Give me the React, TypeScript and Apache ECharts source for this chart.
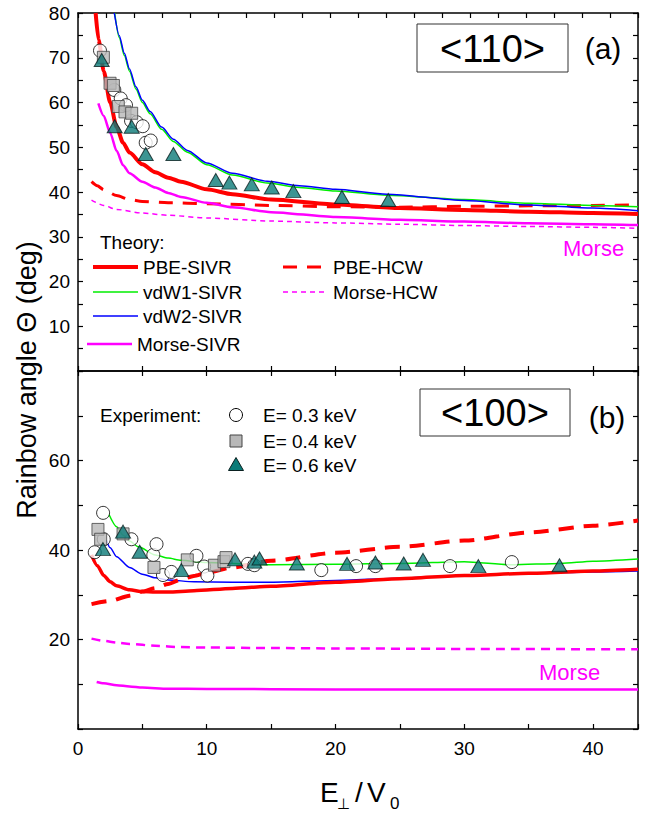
import React, { useEffect, useRef } from 'react';
import * as echarts from 'echarts';

const FONT = "'Liberation Sans', Arial, Helvetica, sans-serif";

// ---------- Panel (a) <110> theory curves ----------
const aPbeSivrX = [1.37, 1.6, 2.0, 2.5, 3.0, 3.5, 4, 5, 6, 7, 8, 10, 12, 15, 20, 25, 30, 35, 40, 43.5];
const aPbeSivrY = [80, 74, 67, 60, 54.5, 51, 48.8, 46.2, 44.4, 43.2, 42.3, 40.6, 39.5, 38.3, 37.2, 36.4, 36, 35.6, 35.3, 35.1];
const aVdw1X = [2.85, 3.2, 3.6, 4, 4.5, 5, 5.6, 6.5, 7.4, 8.5, 10, 12, 14.7, 17.2, 20, 24, 30, 35, 40, 43.5];
const aVdw1Y = [80, 74.5, 70.5, 67, 63, 60, 57.5, 54, 51.3, 48.9, 46.1, 43.8, 42.0, 41.0, 40.2, 39.3, 38.3, 37.5, 37, 36.7];
const aVdw2X = [2.82, 3.2, 3.6, 4, 4.5, 5, 5.6, 6.5, 7.4, 8.5, 10, 12, 14.7, 17.2, 20, 24, 30, 35, 40, 43.5];
const aVdw2Y = [80, 75, 71, 67.5, 63.5, 60.5, 58, 54.5, 51.8, 49.3, 46.5, 44.2, 42.4, 41.4, 40.6, 39.5, 38.1, 37.1, 36.4, 35.8];
const aMorseSivrX = [1.58, 2, 2.5, 3, 3.5, 4, 5, 6, 7, 8, 10, 12, 15, 20, 25, 30, 35, 40, 43.5];
const aMorseSivrY = [59.8, 57, 53.2, 49.2, 46, 44.2, 42.3, 41, 39.8, 38.9, 37.6, 36.6, 35.5, 34.4, 33.8, 33.4, 33, 32.8, 32.6];
const aPbeHcwX = [1.05, 1.5, 2, 3, 4, 5, 7, 10, 15, 20, 25, 30, 35, 40, 43.5];
const aPbeHcwY = [42.3, 41.4, 40.5, 39.2, 38.3, 37.9, 37.6, 37.4, 37, 36.7, 36.6, 36.8, 36.9, 37, 37.1];
const aMorseHcwX = [1.05, 2, 3, 5, 7, 10, 15, 20, 25, 30, 35, 40, 43.5];
const aMorseHcwY = [38.2, 37, 36.1, 35.3, 34.8, 34.2, 33.5, 33.1, 32.8, 32.5, 32.3, 32.1, 31.9];

// ---------- Panel (a) experiment ----------
const aE03X = [1.71, 2.82, 3.32, 3.73, 4.12, 4.56, 5.03, 5.26, 5.65];
const aE03Y = [71.6, 62.8, 60.9, 59.4, 55.9, 55.6, 54.7, 51.0, 51.5];
const aE04X = [1.97, 2.49, 2.75, 3.13, 3.65, 4.17];
const aE04Y = [70.1, 64.3, 63.8, 59.1, 57.9, 57.6];
const aE06X = [1.84, 2.85, 4.17, 5.26, 7.41, 10.7, 11.76, 13.5, 15.05, 16.73, 20.5, 24.1];
const aE06Y = [69.5, 54.7, 54.6, 48.5, 48.5, 42.7, 42.1, 41.7, 41.0, 40.2, 38.9, 38.2];

// ---------- Panel (b) <100> theory curves ----------
const bPbeSivrX = [1.05, 1.5, 2, 2.5, 3, 4, 5, 6, 7, 9, 12, 15, 20, 25, 30, 35, 40, 43.5];
const bPbeSivrY = [38.9, 36.5, 34.3, 32.9, 32, 31.1, 30.7, 30.6, 30.6, 30.9, 31.4, 31.9, 32.8, 33.6, 34.3, 34.8, 35.3, 35.7];
const bVdw1X = [2.4, 3, 3.5, 4, 4.7, 6, 7, 8, 10, 15, 20, 25, 30, 33.7, 37.5, 40, 43.5];
const bVdw1Y = [48, 45.2, 43.3, 42, 40.7, 38.9, 38.2, 37.7, 37.2, 36.7, 36.8, 37, 37.4, 36.7, 37, 37.5, 38];
const bVdw2X = [2.2, 2.5, 3, 4, 5, 6, 7, 9, 12, 15, 20, 25, 30, 35, 40, 43.5];
const bVdw2Y = [42.2, 40.5, 38.5, 36.1, 34.6, 33.8, 33.3, 32.9, 32.8, 32.8, 33.2, 33.7, 34.3, 34.8, 35.1, 35.3];
const bPbeHcwX = [1.05, 2.5, 4, 5, 6, 7, 8, 9, 10, 12, 15, 20, 25, 30, 35, 40, 43.5];
const bPbeHcwY = [27.9, 28.6, 29.8, 30.7, 31.5, 32.4, 33.4, 34.2, 34.9, 36.1, 37.6, 39.4, 40.7, 42.1, 43.9, 45.4, 46.6];
const bMorseHcwX = [1.05, 2, 3, 4, 6, 8, 10, 15, 20, 30, 43.5];
const bMorseHcwY = [20.2, 19.7, 19.3, 19.0, 18.6, 18.3, 18.2, 18.1, 18.0, 17.9, 17.8];
const bMorseSivrX = [1.45, 2, 3, 4, 5, 7, 10, 20, 30, 43.5];
const bMorseSivrY = [10.5, 10.2, 9.8, 9.5, 9.25, 9.0, 8.95, 8.85, 8.8, 8.8];

// ---------- Panel (b) experiment ----------
const bE03X = [1.3, 1.95, 2.0, 4.15, 5.85, 6.1, 6.6, 7.25, 9.2, 9.8, 10.05, 13.2, 13.7, 18.9, 21.6, 23.1, 28.9, 33.7];
const bE03Y = [39.5, 48.3, 42.4, 42.4, 38.9, 41.3, 34.4, 35.1, 38.7, 36.3, 34.3, 36.9, 36.6, 35.5, 36.4, 36.4, 36.4, 37.3];
const bE04X = [1.55, 1.76, 3.5, 5.9, 8.49, 10.6, 11.34, 11.5];
const bE04Y = [44.6, 42.4, 43.6, 36.1, 37.8, 36.6, 37.4, 38.3];
const bE06X = [1.94, 3.5, 4.79, 8.03, 12.2, 13.7, 14.1, 17.0, 20.9, 23.1, 25.3, 26.8, 31.1, 37.4];
const bE06Y = [40.2, 44.1, 39.6, 35.5, 37.9, 37.4, 38.1, 37.0, 36.9, 37.2, 37.0, 37.8, 36.4, 36.6];

// ---------- axis ticks ----------
const xMax = 43.5;
const yMax = 80;
const topYLabels = [10, 20, 30, 40, 50, 60, 70, 80];
const bottomYLabels = [20, 40, 60];
const xLabels = [0, 10, 20, 30, 40];

const RED = '#ff0000';
const GREEN = '#00ee00';
const BLUE = '#0000ff';
const MAGENTA = '#ff00ff';

function pairs(xs: number[], ys: number[]) {
  return xs.map((x, i) => [x, ys[i]]);
}

export default function App() {
  const ref = useRef<HTMLDivElement>(null);
  useEffect(() => {
    const chart = echarts.init(ref.current!, null, { renderer: 'svg' });
    const axisLine = { show: true, onZero: false, lineStyle: { color: '#000', width: 1.5 } };
    const tick = { show: true, inside: true, length: 5, lineStyle: { color: '#000', width: 1.2 } };
    const labelStyle = { color: '#000', fontSize: 19, fontFamily: FONT };
    const noSplit = { show: false };

    const line = (name: string, xa: number, ya: number, xs: number[], ys: number[], color: string, width: number, dash?: number[] | 'solid') => ({
      name,
      type: 'line',
      xAxisIndex: xa,
      yAxisIndex: ya,
      data: pairs(xs, ys),
      showSymbol: false,
      symbol: 'none',
      smooth: 0.25,
      smoothMonotone: 'x',
      z: 2,
      lineStyle: { color, width, type: dash || 'solid', cap: 'butt' },
    });
    const circles = (xa: number, ya: number, xs: number[], ys: number[]) => ({
      type: 'scatter', xAxisIndex: xa, yAxisIndex: ya, data: pairs(xs, ys), symbol: 'circle', symbolSize: 13, z: 4,
      itemStyle: { color: '#fff', borderColor: '#000', borderWidth: 1 },
    });
    const squares = (xa: number, ya: number, xs: number[], ys: number[]) => ({
      type: 'scatter', xAxisIndex: xa, yAxisIndex: ya, data: pairs(xs, ys), symbol: 'rect', symbolSize: 12, z: 5,
      itemStyle: { color: '#b8b8b8', borderColor: '#444', borderWidth: 1 },
    });
    const triangles = (xa: number, ya: number, xs: number[], ys: number[]) => ({
      type: 'scatter', xAxisIndex: xa, yAxisIndex: ya, data: pairs(xs, ys), symbol: 'triangle', symbolSize: [15, 13], z: 6,
      itemStyle: { color: '#0b7b78', borderColor: '#0a2020', borderWidth: 1 },
    });

    const txt = (text: string, x: number, y: number, size: number, extra: any = {}) => ({
      type: 'text', x, y, z: 100,
      style: { text, fontSize: size, fontFamily: FONT, fill: '#000', align: 'left', verticalAlign: 'middle', ...extra },
    });
    const lg = (x1: number, x2: number, y: number, color: string, width: number, dash?: number[]) => ({
      type: 'line', z: 100,
      shape: { x1, y1: y, x2, y2: y },
      style: { stroke: color, lineWidth: width, lineDash: dash || null },
    });

    const option: any = {
      animation: false,
      backgroundColor: '#fff',
      grid: [
        { left: 78, top: 13, width: 560, height: 358 },
        { left: 78, top: 371, width: 560, height: 358 },
      ],
      xAxis: [
        { type: 'value', gridIndex: 0, position: 'bottom', min: 0, max: xMax, interval: 5, axisLine, axisTick: tick, axisLabel: { show: false }, splitLine: noSplit },
        { type: 'value', gridIndex: 0, position: 'top', min: 0, max: xMax, interval: xMax / 20, axisLine, axisTick: tick, axisLabel: { show: false }, splitLine: noSplit },
        {
          type: 'value', gridIndex: 1, position: 'bottom', min: 0, max: xMax, interval: 5, axisLine, axisTick: tick, splitLine: noSplit,
          axisLabel: { ...labelStyle, margin: 10, formatter: (v: number) => (xLabels.includes(v) ? String(v) : '') },
        },
        { type: 'value', gridIndex: 1, position: 'top', min: 0, max: xMax, interval: 5, axisLine, axisTick: tick, axisLabel: { show: false }, splitLine: noSplit },
      ],
      yAxis: [
        {
          type: 'value', gridIndex: 0, position: 'left', min: 0, max: yMax, interval: 5, axisLine, axisTick: tick, splitLine: noSplit,
          axisLabel: { ...labelStyle, margin: 8, formatter: (v: number) => (topYLabels.includes(v) ? String(v) : '') },
        },
        { type: 'value', gridIndex: 0, position: 'right', min: 0, max: yMax, interval: 5, axisLine, axisTick: tick, axisLabel: { show: false }, splitLine: noSplit },
        {
          type: 'value', gridIndex: 1, position: 'left', min: 0, max: yMax, interval: 10, axisLine, axisTick: tick, splitLine: noSplit,
          axisLabel: { ...labelStyle, margin: 8, formatter: (v: number) => (bottomYLabels.includes(v) ? String(v) : '') },
        },
        { type: 'value', gridIndex: 1, position: 'right', min: 0, max: yMax, interval: 10, axisLine, axisTick: tick, axisLabel: { show: false }, splitLine: noSplit },
      ],
      series: [
        // panel (a)
        line('Morse-HCW', 0, 0, aMorseHcwX, aMorseHcwY, MAGENTA, 1.5, [5, 4]),
        line('PBE-HCW', 0, 0, aPbeHcwX, aPbeHcwY, RED, 3, [14, 10]),
        line('Morse-SIVR', 0, 0, aMorseSivrX, aMorseSivrY, MAGENTA, 2.5),
        line('vdW1-SIVR', 0, 0, aVdw1X, aVdw1Y, GREEN, 1.5),
        line('vdW2-SIVR', 0, 0, aVdw2X, aVdw2Y, BLUE, 1.5),
        line('PBE-SIVR', 0, 0, aPbeSivrX, aPbeSivrY, RED, 4),
        circles(0, 0, aE03X, aE03Y),
        squares(0, 0, aE04X, aE04Y),
        triangles(0, 0, aE06X, aE06Y),
        // panel (b)
        line('Morse-HCW', 2, 2, bMorseHcwX, bMorseHcwY, MAGENTA, 2.5, [9, 6]),
        line('Morse-SIVR', 2, 2, bMorseSivrX, bMorseSivrY, MAGENTA, 2.5),
        line('vdW1-SIVR', 2, 2, bVdw1X, bVdw1Y, GREEN, 1.5),
        line('vdW2-SIVR', 2, 2, bVdw2X, bVdw2Y, BLUE, 1.5),
        line('PBE-SIVR', 2, 2, bPbeSivrX, bPbeSivrY, RED, 3.5),
        line('PBE-HCW', 2, 2, bPbeHcwX, bPbeHcwY, RED, 4, [15, 10]),
        circles(2, 2, bE03X, bE03Y),
        squares(2, 2, bE04X, bE04Y),
        triangles(2, 2, bE06X, bE06Y),
      ],
      graphic: [
        // panel labels
        { type: 'rect', z: 100, shape: { x: 417, y: 24, width: 151, height: 48 }, style: { fill: '#fff', stroke: '#333', lineWidth: 1 } },
        txt('<110>', 492.5, 49, 38, { align: 'center' }),
        txt('(a)', 603, 48, 30, { align: 'center' }),
        { type: 'rect', z: 100, shape: { x: 420, y: 389, width: 150, height: 47 }, style: { fill: '#fff', stroke: '#333', lineWidth: 1 } },
        txt('<100>', 495, 413, 38, { align: 'center' }),
        txt('(b)', 607, 417, 30, { align: 'center' }),
        txt('Morse', 563, 248, 22, { fill: MAGENTA }),
        txt('Morse', 539, 672, 22, { fill: MAGENTA }),
        // theory legend
        txt('Theory:', 100, 242, 19),
        lg(93, 138, 267, RED, 4),
        txt('PBE-SIVR', 143, 267, 19),
        lg(93, 138, 292, GREEN, 1.5),
        txt('vdW1-SIVR', 143, 292, 19),
        lg(93, 138, 316, BLUE, 1.5),
        txt('vdW2-SIVR', 143, 316, 19),
        lg(87, 132, 344, MAGENTA, 2.5),
        txt('Morse-SIVR', 137, 344, 19),
        lg(283, 325, 267, RED, 3, [14, 10]),
        txt('PBE-HCW', 333, 267, 19),
        lg(283, 325, 292, MAGENTA, 1.5, [5, 4]),
        txt('Morse-HCW', 333, 292, 19),
        // experiment legend
        txt('Experiment:', 100, 415, 19),
        { type: 'circle', z: 100, shape: { cx: 236, cy: 415, r: 6.5 }, style: { fill: '#fff', stroke: '#000', lineWidth: 1 } },
        txt('E= 0.3 keV', 263, 415, 19),
        { type: 'rect', z: 100, shape: { x: 230, y: 435, width: 12, height: 12 }, style: { fill: '#b8b8b8', stroke: '#444', lineWidth: 1 } },
        txt('E= 0.4 keV', 263, 441, 19),
        { type: 'polygon', z: 100, shape: { points: [[236, 457.5], [243.5, 470.5], [228.5, 470.5]] }, style: { fill: '#0b7b78', stroke: '#0a2020', lineWidth: 1 } },
        txt('E= 0.6 keV', 263, 465, 19),
        // axis titles
        { type: 'text', z: 100, x: 27, y: 380, rotation: Math.PI / 2, style: { text: 'Rainbow angle Θ (deg)', fontSize: 27, fontFamily: FONT, fill: '#000', align: 'center', verticalAlign: 'middle' } },
        txt('E', 320, 792, 28),
        txt('⊥', 337, 803, 15),
        txt('/', 359, 792, 28, { align: 'center' }),
        txt('V', 367, 792, 28),
        txt('0', 390, 803, 17),
      ],
    };
    chart.setOption(option);
    return () => chart.dispose();
  }, []);
  return <div ref={ref} style={{ position: 'fixed', left: 0, top: 0, width: 646, height: 817, background: '#fff' }} />;
}
